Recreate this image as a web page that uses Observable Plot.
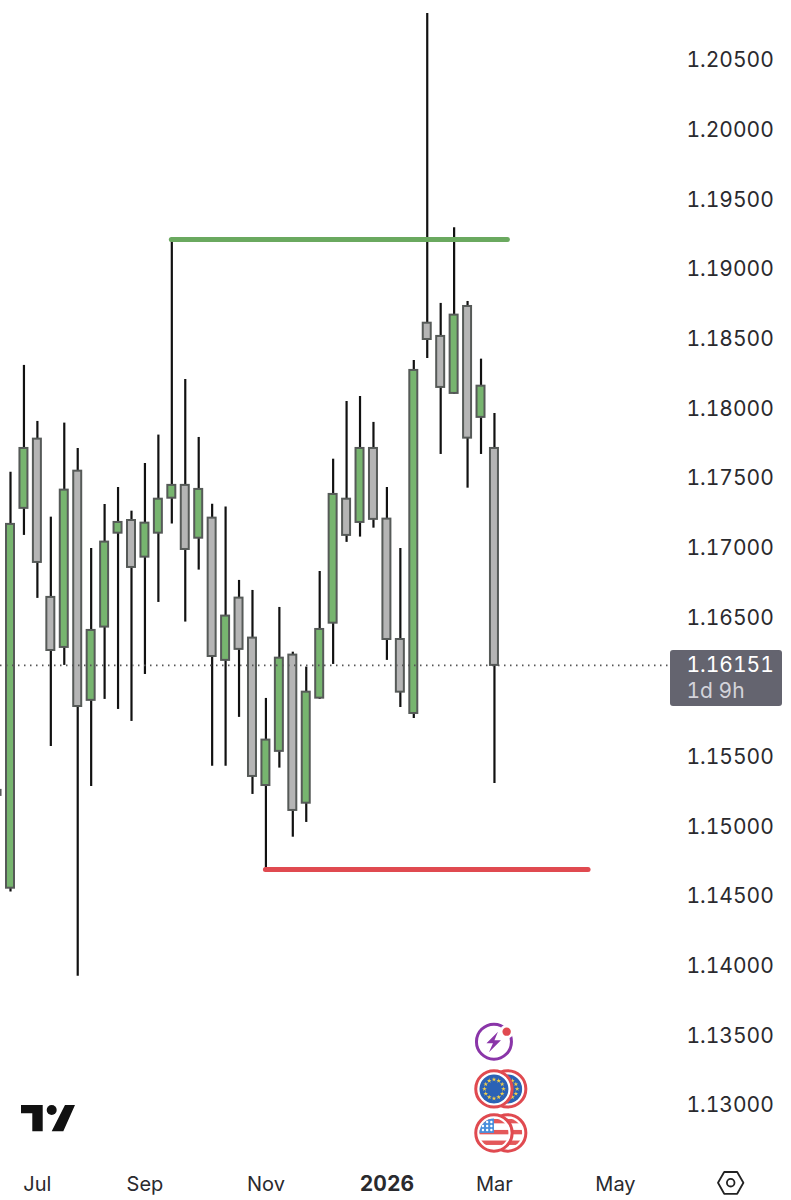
<!DOCTYPE html>
<html>
<head>
<meta charset="utf-8">
<script src="https://cdn.jsdelivr.net/npm/d3@7"></script>
<script src="https://cdn.jsdelivr.net/npm/@observablehq/plot@0.6"></script>
<style>
html,body{margin:0;padding:0;background:#fff}
svg{display:block}
</style>
</head>
<body>
<div id="chart"></div>
<script>
const weeks = ["2025-06-16","2025-06-23","2025-06-30","2025-07-07","2025-07-14","2025-07-21","2025-07-28","2025-08-04","2025-08-11","2025-08-18","2025-08-25","2025-09-01","2025-09-08","2025-09-15","2025-09-22","2025-09-29","2025-10-06","2025-10-13","2025-10-20","2025-10-27","2025-11-03","2025-11-10","2025-11-17","2025-11-24","2025-12-01","2025-12-08","2025-12-15","2025-12-22","2025-12-29","2026-01-05","2026-01-12","2026-01-19","2026-01-26","2026-02-02","2026-02-09","2026-02-16","2026-02-23","2026-03-02"];
const highs = [1.1528,1.17538,1.18304,1.17902,1.17215,1.1789,1.17708,1.1699,1.17306,1.17428,1.17258,1.176,1.17804,1.19208,1.18203,1.17787,1.17308,1.17287,1.16761,1.16689,1.15914,1.16567,1.16246,1.16139,1.16825,1.17631,1.18045,1.18081,1.17895,1.17428,1.1699,1.1834,1.2083,1.18749,1.19292,1.18763,1.18349,1.17959];
const bodyTops = [1.15254,1.17163,1.17708,1.17775,1.16639,1.17409,1.17545,1.16402,1.17036,1.17177,1.17191,1.17172,1.17344,1.17443,1.17443,1.17414,1.17208,1.16505,1.16634,1.16347,1.15615,1.16203,1.16225,1.15959,1.16409,1.17378,1.17344,1.17708,1.17708,1.17201,1.16337,1.18268,1.18607,1.18512,1.18665,1.18727,1.18155,1.17708];
const bodyBottoms = [1.15218,1.14552,1.17278,1.1689,1.16258,1.1628,1.15856,1.159,1.16426,1.171,1.16854,1.16928,1.171,1.17351,1.16983,1.17064,1.16215,1.16187,1.16266,1.15354,1.15289,1.15534,1.1511,1.15162,1.15916,1.16454,1.17084,1.17177,1.17199,1.16337,1.15959,1.15806,1.1849,1.18146,1.18103,1.17782,1.17931,1.16151];
const lows = [1.1519,1.14524,1.17084,1.16632,1.15569,1.16151,1.13921,1.15282,1.15907,1.15835,1.15749,1.16086,1.16603,1.17165,1.16462,1.16835,1.15428,1.15428,1.15778,1.15225,1.14694,1.15414,1.14918,1.15024,1.15907,1.16158,1.17034,1.17072,1.17136,1.16187,1.15849,1.1577,1.18354,1.17665,1.18096,1.17423,1.17665,1.15304];
const rising = [0,1,1,0,0,1,0,1,1,1,0,1,1,1,0,1,0,1,0,0,1,1,0,1,1,1,0,1,0,0,0,1,0,0,1,0,1,0];

const priceTicks = [1.205,1.2,1.195,1.19,1.185,1.18,1.175,1.17,1.165,1.155,1.15,1.145,1.14,1.135,1.13];
const monthTicks = ["2025-07-07","2025-09-01","2025-11-03","2026-03-02","2026-05-04"];
const monthNames = ["Jul","Sep","Nov","Mar","May"];
const yearTick = ["2026-01-05"];

const lastPrice = 1.16151;
const countdown = "1d 9h";
const resistance = {price: 1.19208, from: "2025-09-15", to: "2026-03-09"};
const support = {price: 1.14687, from: "2025-11-03", to: "2026-04-20"};

const D = s => new Date(s + "T00:00:00Z");
const DAY = 864e5;
const bodyHalfDays = 2.08;
const candles = weeks.map((w, i) => ({
  date: D(w), high: highs[i], low: lows[i], top: bodyTops[i], bottom: bodyBottoms[i], up: !!rising[i]
}));

const GREEN = "#77b56f", GREY = "#b5b5b5", EDGE = "#565a58", WICK = "#111111";
const INK = "#2a2a2e", RED = "#e04a50", LEVELG = "#6aa95f";

// Decorations of the TradingView screen: logo, event badges, settings button.
function decorations(index, scales) {
  const g = d3.create("svg:g");
  const cx = scales.x(D(weeks[weeks.length - 1]));

  // logo
  g.append("path").attr("fill", "#111")
    .attr("d", "M21 1105H42.7V1131.3H32.3V1113.3H21Z M65 1105H75L63.3 1131.3H51.7Z");
  g.append("circle").attr("cx", 51.7).attr("cy", 1110).attr("r", 5).attr("fill", "#111");

  // settings hexagon
  g.append("path").attr("fill", "none").attr("stroke", "#222").attr("stroke-width", 1.8)
    .attr("stroke-linejoin", "round")
    .attr("d", "M718 1182.7L724.2 1172H737.2L743.4 1182.7L737.2 1193.8H724.2Z");
  g.append("circle").attr("cx", 730.7).attr("cy", 1182.7).attr("r", 3.8)
    .attr("fill", "none").attr("stroke", "#222").attr("stroke-width", 1.8);

  // lightning event badge
  const yf = scales.y(1.13447);
  const bolt = g.append("g").attr("transform", `translate(${cx},${yf})`);
  bolt.append("circle").attr("r", 17.5).attr("fill", "none").attr("stroke", "#8a35a8").attr("stroke-width", 3);
  bolt.append("circle").attr("cx", 12.7).attr("cy", -10).attr("r", 7).attr("fill", "#fff");
  bolt.append("circle").attr("cx", 12.7).attr("cy", -10).attr("r", 4.2).attr("fill", RED);
  bolt.append("path").attr("fill", "#8a35a8")
    .attr("d", "M4 -10L-7.5 1.5H-1L-5 10.5L7 -1.5H0.5Z");

  const defs = g.append("defs");
  const coin = (cy, id, paint) => {
    [cx + 13.7, cx].forEach((c, k) => {
      const cid = id + k;
      defs.append("clipPath").attr("id", cid).append("circle").attr("cx", c).attr("cy", cy).attr("r", 14.5);
      g.append("circle").attr("cx", c).attr("cy", cy).attr("r", 18.2)
        .attr("fill", "#fff").attr("stroke", RED).attr("stroke-width", 3);
      const inner = g.append("g").attr("clip-path", `url(#${cid})`);
      paint(inner, c, cy);
    });
  };

  // euro coins
  coin(scales.y(1.13108), "eur", (sel, c, cy) => {
    sel.append("circle").attr("cx", c).attr("cy", cy).attr("r", 15).attr("fill", "#2b62b5");
    d3.range(12).forEach(k => {
      const a = k * Math.PI / 6;
      sel.append("path").attr("fill", "#f2cf4a")
        .attr("transform", `translate(${c + 9.5 * Math.cos(a)},${cy + 9.5 * Math.sin(a)})`)
        .attr("d", d3.symbol(d3.symbolStar, 7)());
    });
  });

  // dollar coins
  coin(scales.y(1.12792), "usd", (sel, c, cy) => {
    sel.append("circle").attr("cx", c).attr("cy", cy).attr("r", 15).attr("fill", "#fff");
    [[-14, 4.4], [-3, 4.4], [7.6, 4.4]].forEach(([t, h]) => {
      sel.append("rect").attr("x", c - 15).attr("y", cy + t).attr("width", 30).attr("height", h).attr("fill", "#e4585a");
    });
    sel.append("rect").attr("x", c - 15).attr("y", cy - 15).attr("width", 15).attr("height", 15).attr("fill", "#4a8fdc");
    for (let r = 0; r < 3; r++) for (let s = 0; s < 3; s++) {
      sel.append("circle").attr("cx", c - 11 + s * 4.2).attr("cy", cy - 11 + r * 4).attr("r", 1.2).attr("fill", "#fff");
    }
  });
  return g.node();
}

const chart = Plot.plot({
  width: 791,
  height: 1200,
  marginTop: 0,
  marginLeft: 0,
  marginRight: 105,
  marginBottom: 30,
  style: {fontFamily: "Inter, 'Liberation Sans', sans-serif", background: "#fff", color: INK, overflow: "hidden"},
  x: {type: "utc", domain: [new Date("2025-06-17T19:00:00Z"), new Date("2026-06-10T00:00:00Z")]},
  y: {domain: [1.12526, 1.20923]},
  marks: [
    Plot.axisY(priceTicks, {anchor: "right", tickSize: 0, tickPadding: 0, dy: 1, tickFormat: d3.format(".5f"), fontSize: 21, label: null, fill: INK}),
    Plot.axisX(monthTicks.map(D), {anchor: "bottom", tickSize: 0, tickPadding: 6, tickFormat: (d, i) => monthNames[i], fontSize: 20, label: null, fill: INK}),
    Plot.axisX(yearTick.map(D), {anchor: "bottom", tickSize: 0, tickPadding: 6, tickFormat: () => "2026", fontSize: 21, fontWeight: 700, label: null, fill: INK}),

    Plot.ruleX(candles, {x: "date", y1: "low", y2: "high", stroke: WICK, strokeWidth: 2.2}),
    Plot.rect(candles, {
      x1: d => new Date(+d.date - bodyHalfDays * DAY),
      x2: d => new Date(+d.date + bodyHalfDays * DAY),
      y1: "bottom", y2: "top",
      fill: d => d.up ? GREEN : GREY,
      stroke: EDGE, strokeWidth: 2
    }),

    Plot.ruleY([resistance], {y: "price", x1: d => D(d.from), x2: d => D(d.to), stroke: LEVELG, strokeWidth: 5, strokeLinecap: "round"}),
    Plot.ruleY([support], {y: "price", x1: d => D(d.from), x2: d => D(d.to), stroke: RED, strokeWidth: 5, strokeLinecap: "round"}),
    Plot.ruleY([lastPrice], {stroke: "#555", strokeWidth: 1.8, strokeDasharray: "1.5,4.5"}),

    Plot.rect([{top: 1.16258, bottom: 1.15856}], {y1: "bottom", y2: "top", insetLeft: 670, insetRight: -96, fill: "#64646f", rx: 3}),
    Plot.text([lastPrice], {y: d => d, text: d => d3.format(".5f")(d), frameAnchor: "right", textAnchor: "start", fill: "#fff", fontSize: 21, fontVariant: "tabular-nums", letterSpacing: 0.6}),
    Plot.text([lastPrice], {y: d => d, text: () => countdown, frameAnchor: "right", textAnchor: "start", dy: 26, fill: "#d3d3da", fontSize: 21, fontVariant: "tabular-nums"}),

    decorations
  ]
});
document.getElementById("chart").append(chart);
</script>
</body>
</html>
